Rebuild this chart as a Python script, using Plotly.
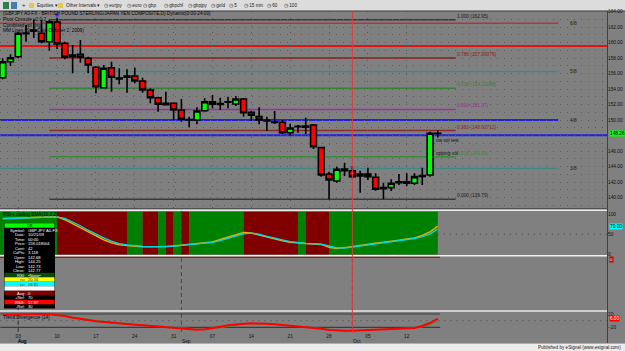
import datetime
import plotly.graph_objects as go

# ---------------- data ----------------
dates = ["2009-07-30", "2009-07-31",
         "2009-08-03", "2009-08-04", "2009-08-05", "2009-08-06", "2009-08-07",
         "2009-08-10", "2009-08-11", "2009-08-12", "2009-08-13", "2009-08-14",
         "2009-08-17", "2009-08-18", "2009-08-19", "2009-08-20", "2009-08-21",
         "2009-08-24", "2009-08-25", "2009-08-26", "2009-08-27", "2009-08-28",
         "2009-08-31", "2009-09-01", "2009-09-02", "2009-09-03", "2009-09-04",
         "2009-09-07", "2009-09-08", "2009-09-09", "2009-09-10", "2009-09-11",
         "2009-09-14", "2009-09-15", "2009-09-16", "2009-09-17", "2009-09-18",
         "2009-09-21", "2009-09-22", "2009-09-23", "2009-09-24", "2009-09-25",
         "2009-09-28", "2009-09-29", "2009-09-30", "2009-10-01", "2009-10-02",
         "2009-10-05", "2009-10-06", "2009-10-07", "2009-10-08", "2009-10-09",
         "2009-10-12", "2009-10-13", "2009-10-14", "2009-10-15", "2009-10-16"]

opens = [155.46, 157.52, 158.17, 161.23, 161.61, 161.19, 160.10, 162.65, 159.90, 158.17,
         158.48, 157.96, 156.80, 154.17, 156.75, 155.42, 155.51, 155.68, 155.03, 153.87,
         152.88, 151.98, 152.16, 151.29, 150.05, 150.00, 151.20, 152.36, 152.00, 152.35,
         152.06, 152.71, 151.00, 150.43, 149.95, 149.74, 149.71, 148.36, 149.18, 149.06,
         149.35, 146.43, 143.03, 142.13, 143.68, 143.46, 142.77, 143.03, 142.61, 141.14,
         141.27, 141.91, 142.04, 141.84, 142.71, 142.90, 148.30]
highs = [157.96, 158.48, 161.39, 162.26, 162.97, 162.90, 162.95, 163.20, 160.10, 159.68,
         160.32, 158.17, 156.97, 157.10, 157.52, 156.67, 156.54, 156.75, 155.46, 154.09,
         153.01, 153.65, 152.23, 152.71, 150.43, 151.64, 152.80, 153.23, 152.88, 153.01,
         153.10, 152.84, 151.20, 151.64, 150.43, 151.16, 150.00, 149.48, 149.35, 150.30,
         149.48, 146.55, 143.33, 143.98, 144.49, 144.06, 143.46, 143.85, 143.13, 141.91,
         142.35, 143.03, 143.13, 143.13, 143.85, 148.49, 148.65]
lows = [155.25, 156.97, 157.96, 160.10, 160.58, 159.90, 158.94, 159.16, 157.83, 156.03,
        157.39, 156.03, 153.45, 154.09, 153.65, 154.61, 153.52, 154.74, 153.52, 152.16,
        151.07, 151.94, 150.00, 149.78, 149.06, 149.45, 151.07, 151.51, 151.29, 151.51,
        151.81, 150.43, 149.87, 149.45, 148.58, 149.48, 148.19, 148.00, 148.36, 148.19,
        146.26, 142.69, 139.79, 141.91, 142.77, 142.48, 140.62, 142.26, 140.88, 139.79,
        140.84, 141.61, 141.48, 141.61, 141.61, 142.69, 147.74]
closes = [157.52, 158.04, 161.19, 161.12, 161.48, 160.10, 162.68, 159.81, 158.09, 158.39,
          158.09, 157.10, 154.30, 156.67, 155.51, 155.29, 155.68, 155.03, 153.87, 152.88,
          152.03, 152.16, 151.29, 150.09, 150.00, 151.16, 152.36, 152.03, 152.13, 152.30,
          152.71, 150.94, 150.61, 150.00, 149.88, 149.68, 148.36, 148.97, 149.14, 149.23,
          146.55, 142.90, 142.26, 143.64, 143.46, 142.69, 143.03, 142.69, 141.06, 141.27,
          141.84, 142.04, 141.84, 142.69, 142.84, 148.29, 148.26]

rsi = [89, 90, 90.5, 91, 91.5, 92, 92.5, 93, 86, 76, 66, 54.5, 45, 36.5, 29, 24, 22,
       20, 19, 19, 19, 20, 21, 23, 24, 27, 29, 31, 37, 43, 49, 54,
       53, 48, 43, 38, 34, 30, 28, 27, 26, 25, 18, 15,
       17, 20, 23, 26, 28, 30, 32, 35, 38, 41, 47, 56, 70]
rsi_sma = [88, 89, 90, 90.5, 91, 91.5, 92, 92.5, 89, 81, 71, 60, 50, 41, 33, 27, 23.5,
           21, 20, 19.5, 19, 19.5, 20.5, 22, 23.5, 25.5, 28, 30, 34, 40, 46, 51,
           53, 50, 45, 40, 36, 32, 29, 27.5, 26.5, 25.5, 21, 16.5,
           16, 18.5, 21.5, 24.5, 27, 29, 31, 33.5, 36.5, 39.5, 44, 51, 63]
rsi_state = "GGGGGGGGRRRRRRRRRGGRRGRGRGGGGGGGRRRRRRRGRRRGGGGGGGGGGGGGG"

td = [17, 18, 19, 20, 20, 20, 19, 17.5, 14, 9, 5, 1, -2, -4, -6.5, -8.5, -10.5, -12.5, -14, -16,
      -18, -20, -22, -24.5, -27, -27.5, -26, -23, -18, -13.5, -10.5, -9, -8, -8, -9, -11, -13,
      -15, -17, -19, -21, -24, -28, -30, -30.5, -30, -29, -28, -27, -26, -25.5, -25, -24, -22,
      -16, -7, 6]
td_signal = [16, 17, 18, 19, 19.5, 20, 19.5, 18.5, 16, 12, 8, 4, 1, -1.5, -4, -6.5, -8.5, -10.5,
             -12.5, -14, -16, -18, -20, -22, -24.5, -26, -26.5, -25, -21.5, -17, -13, -10.5, -9,
             -8.5, -8.5, -10, -12, -14, -16, -18, -20, -22.5, -25.5, -28, -29.5, -29.5, -29, -28,
             -27, -26, -25, -24, -23, -22, -19, -12, -2]

fib_ratios = ["1.000", "0.786", "0.618", "0.500", "0.382", "0.236", "0.000"]
fib_prices = [162.95, 157.99376, 154.10288, 151.37, 148.63712, 145.25576, 139.79]
fib_texts = ["162.95", "157.99376", "154.10288", "151.37", "148.63712", "145.26", "139.79"]
fib_colors = ["#383838", "#8b1c1c", "#3b7f3b", "#9a2f9e", "#8b2a2a", "#3b8a3b", "#3a3a3a"]

mm_labels = ["6/8", "5/8", "4/8", "3/8"]
mm_prices = [162.5, 156.25, 150.0, 143.75]
mm_colors = ["#a83c3c", "#3d8a8a", "#1f1fe0", "#3d8a8a"]

pivot_prices = [159.55, 148.03]
pivot_colors = ["#e01414", "#2020e0"]

price_labels = [140, 142, 144, 146, 150, 152, 154, 156, 158, 160, 162, 164]
cursor_date = "2009-10-01"

title = "(GBPJPY A0-FX - BRITISH POUND STERLING/JAPAN YEN COMPOSITE,D) Dynamic(0:00-24:00)"
study_titles = ["Pivot Console v2.0.2", "Combined vol (ing)", "MM Lines (Start Date October 2, 2009)"]
toolbar_items = ["eurjpy", "euro", "gbp", "gbpchf", "gbpjpy", "gold", "5", "15 min", "60", "100"]

data_window = [("", "D8", "#00ff00", "#000000"),
               ("Symbol:", "GBP JPY A0-FX", None, "#ffffff"),
               ("Date:", "10/21/09", None, "#ffffff"),
               ("Time:", "00:00", None, "#ffffff"),
               ("Price:", "158.018004", None, "#ffffff"),
               ("Cont:", "42", None, "#ffffff"),
               ("CoPts:", "3.118", None, "#ffffff"),
               ("Open:", "142.68", None, "#ffffff"),
               ("High:", "144.25", None, "#ffffff"),
               ("Low:", "142.73", None, "#ffffff"),
               ("Close:", "142.77", None, "#ffffff"),
               ("RSI:", "\u2022None\u2022", "#0a4a0a", "#ffffff"),
               ("rsi:", "20.56", "#ffff00", "#303030"),
               ("rsi:", "18.81", "#00ffff", "#303030"),
               ("", "", "#ffffff", "#000000"),
               ("Avg:", "0", "#800000", "#ffffff"),
               ("+Ref:", "70", None, "#ffffff"),
               ("RSX:", "17.97", "#ff0000", "#ffffff"),
               ("-Ref:", "30", None, "#ffffff")]

# ---------------- geometry ----------------
W, H = 625, 351
ML, MR, MT, MB = 0, 18, 11, 19
PW, PH = W - ML - MR, H - MT - MB
BOTTOM = H - MB


def px(x):
    return (x - ML) / PW


def py(y):
    return (BOTTOM - y) / PH


FONT = "Liberation Sans, Arial, sans-serif"
idx = list(range(len(dates)))
dobj = [datetime.date.fromisoformat(d) for d in dates]
week_idx = [i for i, d in enumerate(dobj) if d.weekday() == 0]
week_txt = [dobj[i].strftime("%d") for i in week_idx]
month_idx = [i for i in range(1, len(dobj)) if dobj[i].month != dobj[i - 1].month]
month_txt = [dobj[i].strftime("%b") for i in month_idx]
cursor_i = dates.index(cursor_date)
XR = [-0.3475, 77.773]

fig = go.Figure()

fig.add_trace(go.Candlestick(
    x=idx, open=opens, high=highs, low=lows, close=closes,
    increasing=dict(line=dict(color="#000000", width=1.6), fillcolor="#00ff00"),
    decreasing=dict(line=dict(color="#000000", width=1.6), fillcolor="#ff0000"),
    whiskerwidth=0, xaxis="x", yaxis="y", hoverinfo="skip", showlegend=False))

# blue marker (combined vol)
fig.add_trace(go.Scatter(x=[7], y=[highs[7] + 0.35], mode="markers", xaxis="x", yaxis="y",
                         marker=dict(symbol="square", size=3, color="#2a2aff"),
                         hoverinfo="skip", showlegend=False))

fig.add_trace(go.Scatter(x=idx, y=rsi, mode="lines", xaxis="x2", yaxis="y2",
                         line=dict(color="#f0a800", width=1.5), hoverinfo="skip", showlegend=False))
fig.add_trace(go.Scatter(x=idx, y=rsi_sma, mode="lines", xaxis="x2", yaxis="y2",
                         line=dict(color="#00d8e0", width=1.3), hoverinfo="skip", showlegend=False))

fig.add_trace(go.Scatter(x=idx, y=td_signal, mode="lines", xaxis="x3", yaxis="y3",
                         line=dict(color="#3f8f3f", width=1), hoverinfo="skip", showlegend=False))
fig.add_trace(go.Scatter(x=idx, y=td, mode="lines", xaxis="x3", yaxis="y3",
                         line=dict(color="#ff0000", width=2), hoverinfo="skip", showlegend=False))

shapes = []


def line(x0, y0, x1, y1, color, width=1, dash="solid", xref="paper", yref="paper", layer="above"):
    shapes.append(dict(type="line", x0=x0, y0=y0, x1=x1, y1=y1, xref=xref, yref=yref,
                       layer=layer, line=dict(color=color, width=width, dash=dash)))


def rect(x0, y0, x1, y1, color, xref="paper", yref="paper", layer="above"):
    shapes.append(dict(type="rect", x0=x0, y0=y0, x1=x1, y1=y1, xref=xref, yref=yref,
                       layer=layer, fillcolor=color, line=dict(width=0)))


# month separators (dashed) across panels
for mi in month_idx:
    line(mi, py(332), mi, py(208), "#4a4a4a", 1, "4px,3px", xref="x", layer="below")
line(2, py(332), 2, py(208), "#4a4a4a", 1, "4px,3px", xref="x", layer="below")

# Murrey math lines
for p, c in zip(mm_prices, mm_colors):
    line(-1, p, 71.5, p, c, 2 if c == "#1f1fe0" else 1.5, xref="x", yref="y", layer="below")
# pivot lines
for p, c in zip(pivot_prices, pivot_colors):
    line(-1, p, 80, p, c, 2, xref="x", yref="y", layer="below")
# fib lines
for p, c in zip(fib_prices, fib_colors):
    line(6, p, 58.3, p, c, 1.5, xref="x", yref="y", layer="below")

# RSI background bands
start = 0
for i in range(1, len(rsi_state) + 1):
    if i == len(rsi_state) or rsi_state[i] != rsi_state[start]:
        col = "#008000" if rsi_state[start] == "G" else "#800000"
        rect(start - 1, 0, i - 1, 1, col, xref="x2", yref="y2 domain", layer="below")
        start = i
# RSI 50 dotted
line(56, 50, 80, 50, "#404040", 1, "1px,5px", xref="x2", yref="y2", layer="below")

# bottom panel guide lines
line(-0.3, 20, 56.3, 20, "#3c3c3c", 1.2, xref="x3", yref="y3", layer="below")
line(-0.3, -20, 56.3, -20, "#3c3c3c", 1.2, xref="x3", yref="y3", layer="below")
line(-0.3, 0, 80, 0, "#4a4a4a", 1, "1px,5px", xref="x3", yref="y3", layer="below")

# panel separators
line(0, py(11), px(625), py(11), "#3a3a3a", 1)
line(0, py(208.5), px(607), py(208.5), "#505050", 1)
line(0, py(210.2), px(607), py(210.2), "#e8e8e8", 1.5)
line(0, py(255.8), px(607), py(255.8), "#f2f2f2", 1.5)
line(0, py(257.4), px(440), py(257.4), "#a01818", 1.2)
line(0, py(311), px(607), py(311), "#e8e8e8", 1.5)
line(px(607.5), py(11), px(607.5), py(343), "#404040", 1)
# cursor line
line(cursor_i, py(333), cursor_i, py(11), "#e03a3a", 1, xref="x")

# toolbar and status bar
rect(0, py(0), px(625), py(11), "#dcdcdc", layer="below")
rect(px(3), py(2), px(9), py(9), "#2f7d4f")
rect(px(11), py(2), px(17), py(9), "#4a78b0")
rect(px(29), py(3), px(34), py(8), "#e6c64a")
rect(px(58), py(3), px(63), py(8), "#e6c64a")
rect(0, py(343.5), px(625), py(351), "#ececec", layer="below")
line(0, py(343.5), px(625), py(343.5), "#b0b0b0", 1)

# data window
rect(px(4), py(223), px(55), py(308.5), "#000000")
row_y0, row_dy = 225.5, 4.5
for k, (lab, val, bg, fg) in enumerate(data_window):
    yc = row_y0 + k * row_dy
    if bg:
        rect(px(4.5), py(yc + row_dy / 2), px(54.5), py(yc - row_dy / 2), bg)

annotations = []


def txt(x, y, s, size=5, color="#000000", xanchor="left", xref="paper", yref="paper",
        bg=None, yanchor="middle"):
    d = dict(x=x, y=y, xref=xref, yref=yref, text=s, showarrow=False, xanchor=xanchor,
             yanchor=yanchor, borderpad=0, font=dict(size=size, color=color, family=FONT))
    if bg:
        d["bgcolor"] = bg
    annotations.append(d)


for k, (lab, val, bg, fg) in enumerate(data_window):
    yc = py(row_y0 + k * row_dy)
    if lab == "":
        txt(px(29.5), yc, val, 4.3, fg, "center")
    else:
        txt(px(26), yc, lab, 4.1, fg, "right")
        txt(px(26.8), yc, val, 4.1, fg, "left")

# chart titles
txt(px(1.5), py(13.6), title, 4.7, "#000000")
for k, s in enumerate(study_titles):
    txt(px(1.5), py(19.6 + 5.6 * k), s, 4.7, "#000000")
txt(px(2), py(214.5), "RSI + trailing SMA(10,2,2)", 4.7, "#000000")
txt(px(2), py(317.5), "Trend Divergence (14)", 4.7, "#000000")

# toolbar texts
txt(px(20.5), py(5.5), "+", 6, "#202020")
txt(px(35.5), py(5.5), "Equities \u25be", 4.6, "#202020")
txt(px(64.5), py(5.5), "Other Intervals \u25be", 4.6, "#202020")
tb_x = [103, 126, 142, 163, 187, 210, 228, 243, 266, 283]
for xx, s in zip(tb_x, toolbar_items):
    txt(px(xx), py(5.5), "\u25f7 " + s, 4.6, "#202020")
txt(px(622), py(347.3), "Published by eSignal (www.esignal.com)", 4.6, "#202020", "right")

# fib labels
for r, t, p, c in zip(fib_ratios, fib_texts, fib_prices, fib_colors):
    txt(58.4, p, f"{r} ({t})", 4.8, c if r not in ("1.000", "0.000") else "#1a1a1a",
        xref="x", yref="y", yanchor="bottom")
# MM labels
for s, p in zip(mm_labels, mm_prices):
    txt(72.9, p, s, 4.8, "#1a1a1a", xref="x", yref="y")
# volume notes
txt(55.65, 147.3, "ow vol test", 4.8, "#101010", xref="x", yref="y")
txt(55.65, 145.7, "opping vol", 4.8, "#101010", xref="x", yref="y")

# value boxes on right axes
txt(px(608.5), closes[-1], f"{closes[-1]:.2f}", 4.8, "#000000", yref="y", bg="#00ff00")
txt(px(608.5), rsi[-1], f"{rsi[-1]:.2f}", 4.8, "#000000", yref="y2", bg="#00ffff")
txt(px(608.5), py(259.8), "0", 4.4, "#ffffff", bg="#c00000")
txt(px(608.5), td[-1], f"{td[-1]:.2f}", 4.6, "#ffffff", yref="y3", bg="#ff0000")

# month labels
for mi, s in zip(month_idx, month_txt):
    txt(mi - 0.1, py(341.2), s, 4.8, "#101010", xref="x")
txt(2 - 0.1, py(341.2), "Aug", 4.8, "#101010", xref="x")

axis_common = dict(range=XR, showline=False, zeroline=False, fixedrange=True)
ytick_font = dict(size=4.8, color="#101010", family=FONT)

fig.update_layout(
    width=W, height=H, margin=dict(l=ML, r=MR, t=MT, b=MB, pad=0),
    paper_bgcolor="#808080", plot_bgcolor="#808080",
    showlegend=False, hovermode=False,
    boxgap=0.25, boxgroupgap=0,
    xaxis=dict(**axis_common, anchor="y", domain=[0, 1], showticklabels=False,
               tickvals=week_idx, showgrid=True, gridcolor="#5a5a5a", griddash="1px,6px",
               gridwidth=1, rangeslider=dict(visible=False), ticks=""),
    yaxis=dict(domain=[py(208), py(11)], range=[138.645, 164.065], side="right",
               tickvals=list(range(139, 165)),
               ticktext=[(f"{v:.2f}" if v in price_labels else "") for v in range(139, 165)],
               tickfont=ytick_font, showgrid=True, gridcolor="#5a5a5a", griddash="1px,6px",
               zeroline=False, ticks="", fixedrange=True),
    xaxis2=dict(**axis_common, anchor="y2", matches="x", showticklabels=False, showgrid=False),
    yaxis2=dict(domain=[py(254.5), py(211.7)], range=[0, 105.7], side="right",
                tickvals=[0, 50, 100], tickfont=ytick_font, showgrid=False, zeroline=False,
                ticks="", fixedrange=True),
    xaxis3=dict(**axis_common, anchor="y3", matches="x", tickvals=week_idx, ticktext=week_txt,
                tickfont=dict(size=4.8, color="#101010", family=FONT), showgrid=False, ticks=""),
    yaxis3=dict(domain=[0, py(313)], range=[-33.9, 23.0], side="right",
                tickvals=[20, -20], tickfont=ytick_font, showgrid=False, zeroline=False,
                ticks="", fixedrange=True),
    shapes=shapes, annotations=annotations,
)

fig.write_html("out.html")
